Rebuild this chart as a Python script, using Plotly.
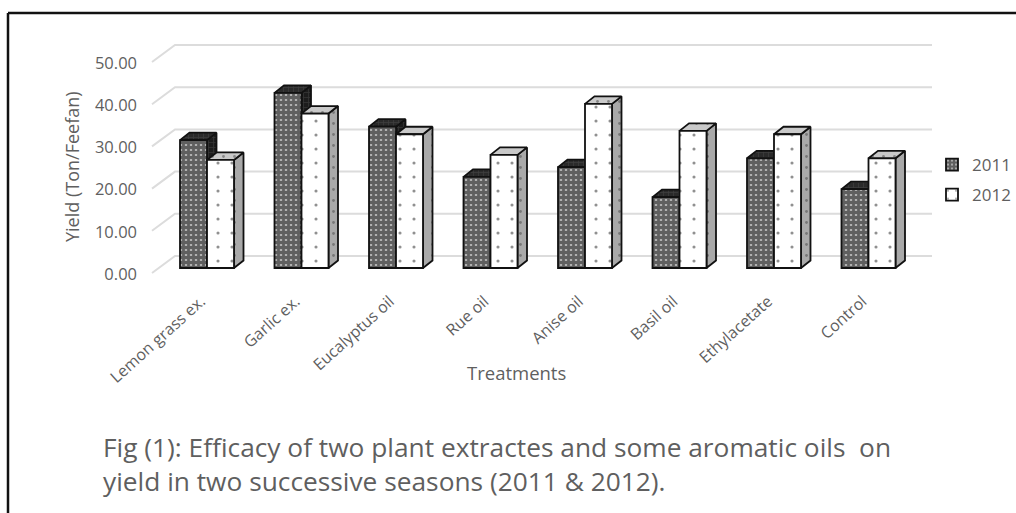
import plotly.graph_objects as go

categories = ["Lemon grass ex.", "Garlic ex.", "Eucalyptus oil", "Rue oil", "Anise oil", "Basil oil", "Ethylacetate", "Control"]
y2011 = [30.3, 41.5, 33.5, 21.6, 23.9, 16.8, 26.0, 18.7]
y2012 = [25.6, 36.6, 31.7, 26.8, 38.9, 32.5, 31.7, 26.0]
ticks = [0, 10, 20, 30, 40, 50]
tick_labels = ["0.00", "10.00", "20.00", "30.00", "40.00", "50.00"]
caption = ["Fig (1): Efficacy of two plant extractes and some aromatic oils  on",
           "yield in two successive seasons (2011 & 2012)."]

W, H = 1016, 513
PX_X = 94.5
PX_Y = 4.22
L, R, T, B = 141, 934, 30, 281
xr = [(L - 207) / PX_X, (R - 207) / PX_X]
yr = [(268 - B) / PX_Y, (268 - T) / PX_Y]
bw = 27.0 / PX_X
ddx, ddy = 9.5 / PX_X, 7.5 / PX_Y
TXT = "#5f5f5f"
FONT = "Open Sans"
xs = list(range(len(categories)))

fig = go.Figure()

# 3-D wall gridlines
gx = []
gy = []
for v in ticks:
    gx += [(152 - 207) / PX_X, (175 - 207) / PX_X, (932 - 207) / PX_X, None]
    gy += [v - 5 / PX_Y, v + 12 / PX_Y, v + 12 / PX_Y, None]
fig.add_trace(go.Scatter(x=gx, y=gy, mode="lines", line=dict(color="#dcdcdc", width=2),
                         showlegend=False, hoverinfo="skip", cliponaxis=False, zorder=0))


def faces(vals, x0, z, side_col, top_col, pat_fg, pat_shape, pat_size, pat_sol):
    sx, sy, tx, ty = [], [], [], []
    for i, v in zip(xs, vals):
        a = i + x0
        b = a + bw
        sx += [b, b, b + ddx, b + ddx, b, None]
        sy += [0, v, v + ddy, ddy, 0, None]
        tx += [a, b, b + ddx, a + ddx, a, None]
        ty += [v, v, v + ddy, v + ddy, v, None]
    pat = dict(shape=pat_shape, fgcolor=pat_fg, bgcolor=side_col, size=pat_size, solidity=pat_sol)
    fig.add_trace(go.Scatter(x=sx, y=sy, mode="lines", fill="toself", fillcolor=side_col, fillpattern=pat,
                             line=dict(color="#111111", width=1.8), showlegend=False,
                             hoverinfo="skip", cliponaxis=False, zorder=z))
    pat2 = dict(pat, bgcolor=top_col)
    fig.add_trace(go.Scatter(x=tx, y=ty, mode="lines", fill="toself", fillcolor=top_col, fillpattern=pat2,
                             line=dict(color="#111111", width=1.8), showlegend=False,
                             hoverinfo="skip", cliponaxis=False, zorder=z))


faces(y2011, -bw, 1, "#1c1c1c", "#2a2a2a", "#555555", "+", 5, 0.25)
fig.add_trace(go.Bar(name="2011", x=xs, y=y2011, offset=-bw, width=bw, legendgroup="a", zorder=2,
                     marker=dict(color="#1a1a1a", line=dict(color="#111111", width=1.8),
                                 pattern=dict(shape="+", fgcolor="#0e0e0e", bgcolor="#b0b0b0", size=5, solidity=0.8))))
faces(y2012, 0, 3, "#a9a9a9", "#c9c9c9", "#444444", ".", 11, 0.05)
fig.add_trace(go.Bar(name="2012", x=xs, y=y2012, offset=0, width=bw, legendgroup="b", zorder=4,
                     marker=dict(color="#ffffff", line=dict(color="#111111", width=1.8),
                                 pattern=dict(shape=".", fgcolor="#222222", bgcolor="#ffffff", size=14, solidity=0.04))))

annos = [
    dict(text="Yield (Ton/Feefan)", x=72 / W, y=1 - 167 / H, textangle=-90, font=dict(size=18, color=TXT)),
    dict(text="Treatments", x=516 / W, y=1 - 372 / H, font=dict(size=18.5, color=TXT)),
]
for line, ypx in zip(caption, [447, 481]):
    annos.append(dict(text=line, x=101 / W, y=1 - ypx / H, xanchor="left", font=dict(size=26.3, color=TXT)))
for a in annos:
    a.update(xref="paper", yref="paper", showarrow=False, font=dict(a["font"], family=FONT))
    a.setdefault("xanchor", "center")
    a.setdefault("yanchor", "middle")

fig.update_layout(
    width=W, height=H, margin=dict(l=0, r=0, t=0, b=0, autoexpand=False),
    paper_bgcolor="#ffffff", plot_bgcolor="rgba(0,0,0,0)",
    barmode="overlay", font=dict(family=FONT, color=TXT, size=14),
    xaxis=dict(domain=[L / W, R / W], range=xr, tickmode="array", tickvals=xs, ticktext=categories,
               tickangle=-42, showgrid=False, zeroline=False, showline=False, ticks="", automargin=False,
               ticklabelshift=-6, ticklabelstandoff=7, tickfont=dict(size=16, color=TXT)),
    yaxis=dict(domain=[1 - B / H, 1 - T / H], range=yr, tickmode="array", tickvals=ticks, ticktext=tick_labels,
               showgrid=False, zeroline=False, showline=False, ticks="", automargin=False,
               ticklabelshift=6, ticklabelstandoff=3, tickfont=dict(size=16.5, color=TXT)),
    legend=dict(x=932 / W, y=1 - 147 / H, xanchor="left", yanchor="top", tracegroupgap=5, itemwidth=30,
                bgcolor="rgba(0,0,0,0)", font=dict(size=17, color=TXT)),
    annotations=annos,
    shapes=[dict(type="line", xref="paper", yref="paper", x0=8 / W, x1=8 / W, y0=0, y1=1 - 13 / H,
                 line=dict(color="#111111", width=2.5)),
            dict(type="line", xref="paper", yref="paper", x0=8 / W, x1=1, y0=1 - 13 / H, y1=1 - 13 / H,
                 line=dict(color="#111111", width=2.5))],
)

fig.write_html("out.html", config={"displayModeBar": False}, post_script="document.body.style.margin='0';")
